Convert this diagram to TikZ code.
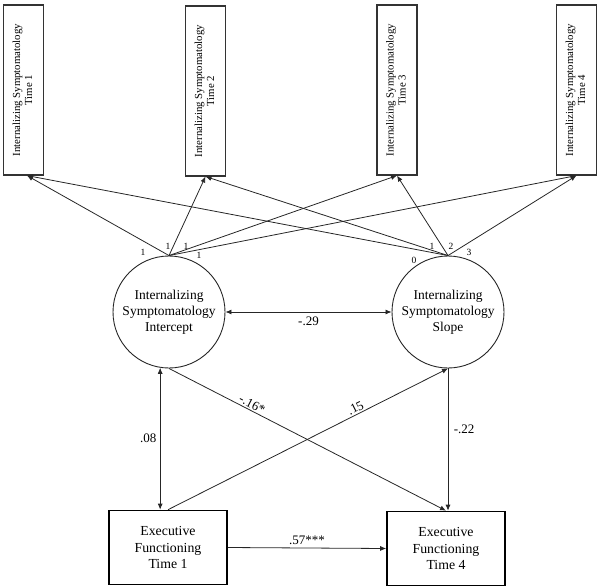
\documentclass[tikz,border=0pt]{standalone}
\usepackage{fontspec}
\setmainfont{Liberation Serif}
\usetikzlibrary{arrows.meta}
\begin{document}
\begin{tikzpicture}[x=1pt,y=-1pt,
  topbox/.style={draw=black!80,line width=1.1pt,minimum width=40pt,minimum height=170pt,inner sep=0pt},
  latent/.style={draw=black!85,line width=0.9pt,circle,minimum size=112pt,inner sep=0pt,align=center,font=\fontsize{13.5}{16}\selectfont},
  efbox/.style={draw=black,line width=1.6pt,minimum width=118pt,minimum height=74pt,inner sep=0pt,align=center,font=\fontsize{13.8}{16.5}\selectfont},
  conn/.style={draw=black!85,line width=0.8pt},
  tip/.style={-{Latex[length=6pt,width=5pt]}},
  dtip/.style={{Latex[length=6pt,width=5pt]}-{Latex[length=6pt,width=5pt]}},
  lab/.style={font=\fontsize{13}{15}\selectfont,inner sep=1.5pt},
  small/.style={font=\fontsize{9.5}{11}\selectfont,inner sep=0pt}]
\useasboundingbox (0,0) rectangle (600,587);
\newcommand{\toplabel}[1]{\rotatebox{90}{\fontsize{10.8}{13}\selectfont\begin{tabular}{@{}c@{}}Internalizing Symptomatology\\[-1pt] Time #1\end{tabular}}}
\node[topbox] (t1) at (23.5,90) {\toplabel{1}};
\node[topbox] (t2) at (205.5,91) {\toplabel{2}};
\node[topbox] (t3) at (397,90) {\toplabel{3}};
\node[topbox] (t4) at (576.5,90) {\toplabel{4}};
\node[latent] (ic) at (169,312) {Internalizing\\Symptomatology\\Intercept};
\node[latent] (sl) at (448,312) {Internalizing\\Symptomatology\\Slope};
\node[efbox] (ef1) at (168,547.5) {Executive\\Functioning\\Time 1};
\node[efbox] (ef4) at (446,548.5) {Executive\\Functioning\\Time 4};
% loadings
\coordinate (t1b) at ([xshift=3.5pt]t1.south);
\foreach \t in {t2,t3,t4} {
  \draw[conn,tip] (ic.north) -- (\t.south);
  \draw[conn,tip] (sl.north) -- (\t.south);
}
\draw[conn,tip] (ic.north) -- (t1b);
\draw[conn,tip] (sl.north) -- (t1b);
% loading labels
\node[small] (l1) at (143,252) {1};
\node[small] (l2) at (168,246) {1};
\node[small] (l3) at (186,246) {1};
\node[small] (l4) at (199,255) {1};
\node[small] (s0) at (414,260) {0};
\node[small] (s1) at (432,246) {1};
\node[small] (s2) at (451,246) {2};
\node[small] (s3) at (469,252) {3};
% structural part
\draw[conn,dtip] (ic.east) -- node[lab,below=3pt] {-.29} (sl.west);
\coordinate (icb) at (ic.-99);
\draw[conn,dtip] (icb) -- node[lab,left=2pt] {.08} (icb |- ef1.north);
\draw[conn,tip] (ic.south) -- node[lab,sloped,above,pos=0.29] {-.16*} (ef4.north);
\draw[conn,tip] (ef1.north) -- node[lab,sloped,above,pos=0.68] {.15} (sl.south);
\draw[conn,tip] (sl.south) -- node[lab,right=4pt,pos=0.43] {-.22} (sl.south |- ef4.north);
\draw[conn,tip] (ef1.east) -- node[lab,above=1pt] {.57***} (ef4.west);
\end{tikzpicture}
\end{document}
